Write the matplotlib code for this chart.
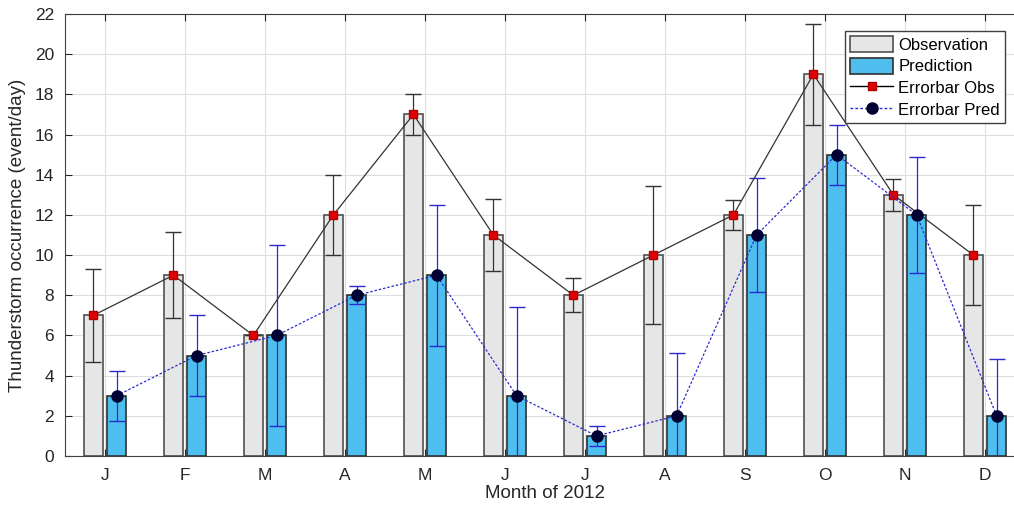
import numpy as np
import matplotlib.pyplot as plt
from matplotlib.patches import Patch
from matplotlib.lines import Line2D

plt.rcParams['font.family'] = ['Liberation Sans', 'DejaVu Sans']

months = ['J', 'F', 'M', 'A', 'M', 'J', 'J', 'A', 'S', 'O', 'N', 'D']
obs = [7, 9, 6, 12, 17, 11, 8, 10, 12, 19, 13, 10]
pred = [3, 5, 6, 8, 9, 3, 1, 2, 11, 15, 12, 2]
obs_err = [2.3, 2.15, 0.0, 2.0, 1.0, 1.8, 0.85, 3.45, 0.75, 2.5, 0.8, 2.5]
pred_err = [1.25, 2.0, 4.5, 0.45, 3.5, 4.4, 0.5, 3.15, 2.85, 1.5, 2.9, 2.85]

x = np.arange(1, len(months) + 1)
off = 0.145
w = 0.24

fig = plt.figure(figsize=(10.14, 5.08), dpi=100)
ax = fig.add_axes([65/1014, 1 - 456/508, 960/1014, 442/508])

ax.bar(x - off, obs, w, color='#e6e6e6', edgecolor='#505050', linewidth=1.2, zorder=2)
ax.bar(x + off, pred, w, color='#4dbeee', edgecolor='#303030', linewidth=1.2, zorder=2)

ax.errorbar(x - off, obs, yerr=obs_err, color='#333333', lw=0.9, capsize=6,
            marker='s', ms=6, mfc='#e00000', mec='#b00000', zorder=4)
ax.errorbar(x + off, pred, yerr=pred_err, color='#2a2ad0', lw=0.9, ls=(0, (2, 1.5)),
            capsize=6, marker='o', ms=8, mfc='#000033', mec='#000033', zorder=4)

ax.set_xlim(0.5, 12.5)
ax.set_ylim(0, 22)
ax.set_yticks(np.arange(0, 23, 2))
ax.set_xticks(x)
ax.set_xticklabels(months)
ax.tick_params(direction='in', top=True, right=True, labelsize=12.5, colors='#262626', length=5)
ax.tick_params(axis='x', pad=9)
ax.tick_params(axis='y', pad=8)
ax.grid(True, color='#dedede', lw=0.8, zorder=0)
ax.set_axisbelow(True)
for s in ax.spines.values():
    s.set_color('#404040')
ax.set_xlabel('Month of 2012', fontsize=13.5, color='#262626', labelpad=1)
ax.set_ylabel('Thunderstorm occurrence (event/day)', fontsize=13.5, color='#262626', labelpad=6)

handles = [
    Patch(facecolor='#e6e6e6', edgecolor='#505050', lw=1.2),
    Patch(facecolor='#4dbeee', edgecolor='#303030', lw=1.2),
    Line2D([], [], color='black', lw=1, marker='s', ms=6, mfc='#e00000', mec='#b00000'),
    Line2D([], [], color='#2a2ad0', lw=1, ls=(0, (2, 1.5)), marker='o', ms=8,
           mfc='#000033', mec='#000033'),
]
labels = ['Observation', 'Prediction', 'Errorbar Obs', 'Errorbar Pred']
leg = ax.legend(handles, labels, loc='upper right', bbox_to_anchor=(1005/1014, 1 - 31/508),
                bbox_transform=fig.transFigure, fontsize=12, fancybox=False,
                edgecolor='#404040', framealpha=1, handlelength=2.6, handleheight=1.1,
                handletextpad=0.3, labelspacing=0.3, borderpad=0.3, borderaxespad=0)

fig.savefig('out.png', dpi=100)
